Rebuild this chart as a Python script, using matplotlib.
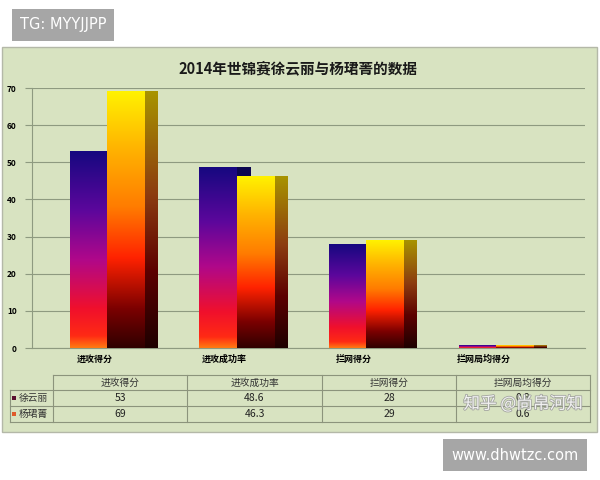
import numpy as np
import matplotlib
matplotlib.use('Agg')
import matplotlib.pyplot as plt
from matplotlib.colors import LinearSegmentedColormap
from matplotlib.patches import Rectangle
from matplotlib.transforms import ScaledTranslation
import matplotlib.patheffects as pe

plt.rcParams['font.family'] = ['Noto Sans CJK SC', 'DejaVu Sans']

# data
categories = ['进攻得分', '进攻成功率', '拦网得分', '拦网局均得分']
players = ['徐云丽', '杨珺菁']
xu_values = [53, 48.6, 28, 0.8]
yang_values = [69, 46.3, 29, 0.6]
table_text = [['53', '48.6', '28', '0.8'], ['69', '46.3', '29', '0.6']]
y_ticks = [0, 10, 20, 30, 40, 50, 60, 70]

panel_bg = '#d8e3c1'

# gradients (bottom -> top)
cmap_xu = LinearSegmentedColormap.from_list('xu', [
    (0, '#ff7a12'), (0.06, '#ff2a14'), (0.2, '#f0102c'), (0.45, '#b0088a'),
    (0.7, '#5c069c'), (1, '#160880')])
cmap_xu_side = LinearSegmentedColormap.from_list('xus', ['#2a0010', '#14063a', '#0c0650'])
cmap_yang = LinearSegmentedColormap.from_list('yang', [
    (0, '#300000'), (0.15, '#7a0000'), (0.35, '#ff2200'), (0.55, '#ff7c00'),
    (0.78, '#ffb400'), (1, '#fff200')])
cmap_yang_side = LinearSegmentedColormap.from_list('yangs', [
    (0, '#1e0000'), (0.3, '#5c0000'), (0.6, '#8c3c10'), (1, '#a89400')])

fig = plt.figure(figsize=(6, 4.8), dpi=100)
fig.patch.set_facecolor('white')

# chart panel
fig.patches.append(Rectangle((2 / 600, 1 - 432 / 480), 595 / 600, 385 / 480,
                             transform=fig.transFigure, facecolor=panel_bg,
                             edgecolor='#b4b8a8', lw=1.0, zorder=-5))

ax = fig.add_axes([32 / 600, 1 - 348 / 480, 553 / 600, 260 / 480])
ax.set_facecolor('none')
ax.set_zorder(2)

bw = 0.286
side = 0.108
grad = np.linspace(0, 1, 256).reshape(-1, 1)


def grad_bar(x0, x1, h, cmap, z):
    if h <= 0:
        return
    ax.imshow(grad, extent=[x0, x1, 0, h], origin='lower', aspect='auto',
              cmap=cmap, zorder=z, interpolation='bilinear')


for i in range(len(categories)):
    # 徐云丽 bar, side face hidden behind second bar
    grad_bar(i, i + side, xu_values[i], cmap_xu_side, 2)
    grad_bar(i - bw, i, xu_values[i], cmap_xu, 3)
    # 杨珺菁 bar
    grad_bar(i + bw, i + bw + side, yang_values[i], cmap_yang_side, 3)
    grad_bar(i, i + bw, yang_values[i], cmap_yang, 4)

ax.set_xlim(-0.579, 3.69)
ax.set_ylim(0, 70)
ax.set_yticks(y_ticks)
ax.set_yticklabels([str(v) for v in y_ticks], fontsize=6, fontweight='bold')
ax.yaxis.grid(True, color='#8e9a80', lw=0.8)
ax.set_axisbelow(True)
ax.tick_params(axis='y', length=5, color='#8e9a80', pad=6)
ax.set_xticks(range(len(categories)))
ax.set_xticklabels(categories, fontsize=6.5, fontweight='bold')
ax.tick_params(axis='x', length=0, pad=5)
offset = ScaledTranslation(-12 / 100, 0, fig.dpi_scale_trans)
for lab in ax.get_xticklabels():
    lab.set_transform(lab.get_transform() + offset)
for s in ['top', 'right']:
    ax.spines[s].set_visible(False)
for s in ['left', 'bottom']:
    ax.spines[s].set_color('#8e9a80')

fig.text(298 / 600, 1 - 68 / 480, '2014年世锦赛徐云丽与杨珺菁的数据', ha='center', va='center',
         fontsize=10.5, fontweight='bold', color='#1a1a1a')

# data table
col_edges = [53, 187, 322, 456, 590]
row_edges = [375, 390, 406, 422]
line_c = '#8c947c'
fx = lambda px: px / 600
fy = lambda py: 1 - py / 480
for r in row_edges:
    left = 53 if r == 375 else 10
    fig.add_artist(plt.Line2D([fx(left), fx(590)], [fy(r), fy(r)], color=line_c, lw=0.8))
fig.add_artist(plt.Line2D([fx(10), fx(10)], [fy(390), fy(422)], color=line_c, lw=0.8))
for c in col_edges:
    fig.add_artist(plt.Line2D([fx(c), fx(c)], [fy(375), fy(422)], color=line_c, lw=0.8))
for j, cat in enumerate(categories):
    cx = (col_edges[j] + col_edges[j + 1]) / 2
    fig.text(fx(cx), fy(382.5), cat, ha='center', va='center', fontsize=7, color='#333333')
    for k in range(2):
        cy = (row_edges[k + 1] + row_edges[k + 2]) / 2
        fig.text(fx(cx), fy(cy), table_text[k][j], ha='center', va='center', fontsize=7.5, color='#222222')
key_colors = ['#5a1030', '#e05a2a']
for k, name in enumerate(players):
    cy = (row_edges[k + 1] + row_edges[k + 2]) / 2
    fig.patches.append(Rectangle((fx(12), fy(cy + 2)), 4 / 600, 4 / 480,
                                 transform=fig.transFigure, facecolor=key_colors[k], lw=0))
    fig.text(fx(19), fy(cy), name, ha='left', va='center', fontsize=7, color='#333333')

# watermarks
fig.text(fx(63), fy(25), 'TG: MYYJJPP', ha='center', va='center', fontsize=10.5, color='white',
         family='DejaVu Sans',
         bbox=dict(boxstyle='square,pad=0.55', facecolor='#a6a6a6', edgecolor='none'))
fig.text(fx(515), fy(455), 'www.dhwtzc.com', ha='center', va='center', fontsize=10.5, color='white',
         family='DejaVu Sans',
         bbox=dict(boxstyle='square,pad=0.6', facecolor='#a6a6a6', edgecolor='none'))
fig.text(fx(523), fy(404), '知乎 @尚帛河知', ha='center', va='center', fontsize=12, color='white',
         alpha=0.85, path_effects=[pe.withStroke(linewidth=1.2, foreground='#9a9a9a')])

fig.savefig('out.png', dpi=100)
